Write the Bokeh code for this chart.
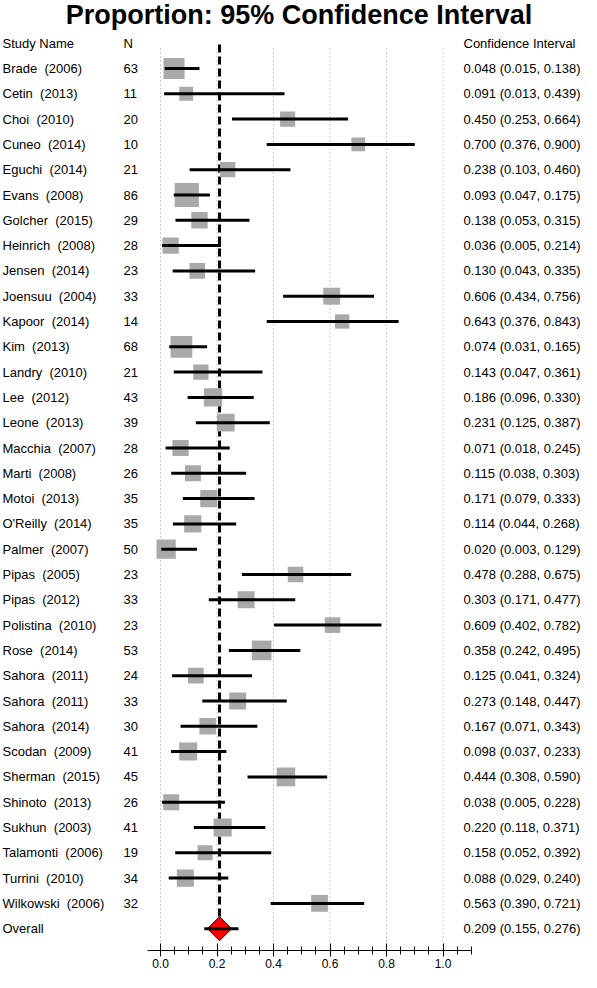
import numpy as np
from bokeh.plotting import figure
from bokeh.models import Range1d, FixedTicker, NumeralTickFormatter
from bokeh.core.properties import value
from bokeh.embed import file_html
from bokeh.resources import INLINE

# ---------------- data ----------------
studies = ["Brade", "Cetin", "Choi", "Cuneo", "Eguchi", "Evans", "Golcher", "Heinrich",
           "Jensen", "Joensuu", "Kapoor", "Kim", "Landry", "Lee", "Leone", "Macchia",
           "Marti", "Motoi", "O'Reilly", "Palmer", "Pipas", "Pipas", "Polistina", "Rose",
           "Sahora", "Sahora", "Sahora", "Scodan", "Sherman", "Shinoto", "Sukhun",
           "Talamonti", "Turrini", "Wilkowski"]
years = [2006, 2013, 2010, 2014, 2014, 2008, 2015, 2008, 2014, 2004, 2014, 2013, 2010,
         2012, 2013, 2007, 2008, 2013, 2014, 2007, 2005, 2012, 2010, 2014, 2011, 2011,
         2014, 2009, 2015, 2013, 2003, 2006, 2010, 2006]
n_total = [63, 11, 20, 10, 21, 86, 29, 28, 23, 33, 14, 68, 21, 43, 39, 28, 26, 35, 35, 50,
           23, 33, 23, 53, 24, 33, 30, 41, 45, 26, 41, 19, 34, 32]
proportion = [0.048, 0.091, 0.450, 0.700, 0.238, 0.093, 0.138, 0.036, 0.130, 0.606, 0.643,
              0.074, 0.143, 0.186, 0.231, 0.071, 0.115, 0.171, 0.114, 0.020, 0.478, 0.303,
              0.609, 0.358, 0.125, 0.273, 0.167, 0.098, 0.444, 0.038, 0.220, 0.158, 0.088,
              0.563]
lower = [0.015, 0.013, 0.253, 0.376, 0.103, 0.047, 0.053, 0.005, 0.043, 0.434, 0.376,
         0.031, 0.047, 0.096, 0.125, 0.018, 0.038, 0.079, 0.044, 0.003, 0.288, 0.171,
         0.402, 0.242, 0.041, 0.148, 0.071, 0.037, 0.308, 0.005, 0.118, 0.052, 0.029,
         0.390]
upper = [0.138, 0.439, 0.664, 0.900, 0.460, 0.175, 0.315, 0.214, 0.335, 0.756, 0.843,
         0.165, 0.361, 0.330, 0.387, 0.245, 0.303, 0.333, 0.268, 0.129, 0.675, 0.477,
         0.782, 0.495, 0.324, 0.447, 0.343, 0.233, 0.590, 0.228, 0.371, 0.392, 0.240,
         0.721]
overall_est = 0.209
overall_lower = 0.155
overall_upper = 0.276
major_ticks = [0.0, 0.2, 0.4, 0.6, 0.8, 1.0]

# ---------------- layout (pixels inside the figure) ----------------
FRAME_W = 581
FRAME_H = 950
PX_PER_UNIT = 282.5
X0_PX = 160          # pixel column of proportion 0.0
ROW0_PX = 68         # pixel row of first study
ROW_PX = 25.3        # row spacing


def xd(px):
    return (px - X0_PX) / PX_PER_UNIT


def yd(py):
    return (py - ROW0_PX) / ROW_PX


rows = list(range(len(studies)))
overall_row = len(studies)
labels = [f"{s}\u00a0 ({y})" for s, y in zip(studies, years)]
ci_text = [f"{v:.3f} ({lo:.3f}, {hi:.3f})" for v, lo, hi in zip(proportion, lower, upper)]
box_px = [12.4 + 0.137 * n for n in n_total]

p = figure(frame_width=FRAME_W, frame_height=FRAME_H,
           x_range=Range1d(xd(0), xd(FRAME_W)),
           y_range=Range1d(yd(FRAME_H), yd(0)),
           output_backend="svg", toolbar_location=None,
           y_axis_location=None, min_border=0,
           outline_line_color=None, background_fill_color="white",
           border_fill_color="white")
p.xgrid.visible = False
p.ygrid.visible = False

FONT = value("Liberation Sans")

# dotted grid lines
p.segment(x0=major_ticks, x1=major_ticks,
          y0=[yd(48)] * len(major_ticks), y1=[yd(FRAME_H)] * len(major_ticks),
          line_color="#9a9a9a", line_width=1, line_dash="1 3")

# dashed overall reference line
p.segment(x0=[overall_est], x1=[overall_est], y0=[yd(44)], y1=[overall_row],
          line_color="black", line_width=3, line_dash="8 4")

# study boxes and CI lines
p.scatter(x=proportion, y=rows, size=box_px, marker="square",
          fill_color="#a9a9a9", line_color=None)
p.segment(x0=lower, x1=upper, y0=rows, y1=rows, line_color="black", line_width=3)

# overall diamond
p.scatter(x=[overall_est], y=[overall_row], marker="square", angle=np.pi / 4, size=17,
          fill_color="#ff0000", line_color="black", line_width=1)
p.segment(x0=[overall_lower], x1=[overall_upper], y0=[overall_row], y1=[overall_row],
          line_color="black", line_width=3)

# title
p.text(x=[xd(298.5)], y=[yd(14)], text=["Proportion: 95% Confidence Interval"],
       text_align="center", text_baseline="middle", text_font=FONT,
       text_font_style="bold", text_font_size="27px", text_color="black")

# header
COL_NAME, COL_N, COL_CI = 2, 123, 463
p.text(x=[xd(COL_NAME), xd(COL_N), xd(COL_CI)], y=[-1, -1, -1],
       text=["Study Name", "N", "Confidence Interval"],
       text_align="left", text_baseline="middle", text_font=FONT,
       text_font_size="13px", text_color="black")

# row texts
all_rows = rows + [overall_row]
p.text(x=[xd(COL_NAME)] * len(all_rows), y=all_rows, text=labels + ["Overall"],
       text_align="left", text_baseline="middle", text_font=FONT,
       text_font_size="13px", text_color="black")
p.text(x=[xd(COL_N)] * len(rows), y=rows, text=[str(v) for v in n_total],
       text_align="left", text_baseline="middle", text_font=FONT,
       text_font_size="13px", text_color="black")
p.text(x=[xd(COL_CI)] * len(all_rows), y=all_rows,
       text=ci_text + [f"{overall_est:.3f} ({overall_lower:.3f}, {overall_upper:.3f})"],
       text_align="left", text_baseline="middle", text_font=FONT,
       text_font_size="13px", text_color="black")

# x axis
minor = [round(v, 2) for v in np.arange(0.05, 1.101, 0.05) if round(v, 2) not in major_ticks]
ax = p.xaxis[0]
ax.ticker = FixedTicker(ticks=major_ticks, minor_ticks=minor)
ax.formatter = NumeralTickFormatter(format="0.0")
ax.bounds = (-0.046, 1.10)
ax.axis_line_color = "black"
ax.axis_line_width = 1
ax.major_tick_line_color = "black"
ax.minor_tick_line_color = "black"
ax.major_tick_in = 7
ax.major_tick_out = 6
ax.minor_tick_in = 4
ax.minor_tick_out = 4
ax.major_label_standoff = 2
ax.major_label_text_font = "Liberation Sans"
ax.major_label_text_font_size = "12px"
ax.major_label_text_color = "black"

open("out.html", "w").write(file_html(p, INLINE))
